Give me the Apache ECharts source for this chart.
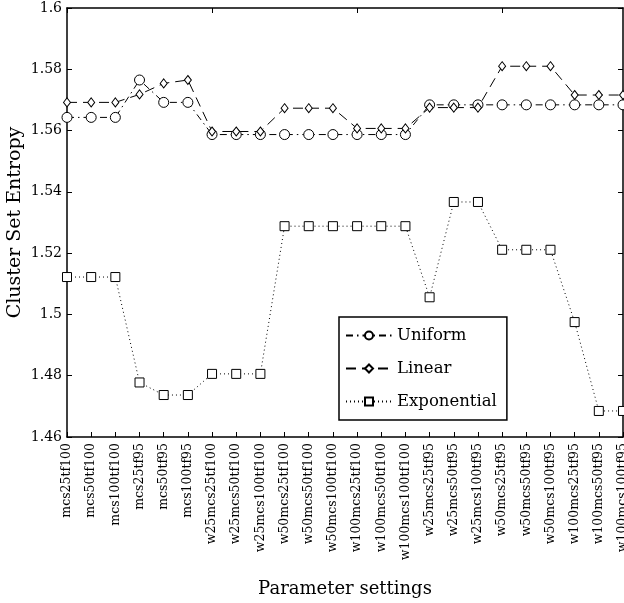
<!DOCTYPE html>
<html><head><meta charset="utf-8">
<script src="https://cdn.jsdelivr.net/npm/echarts@6/dist/echarts.min.js"></script>
<style>html,body{margin:0;padding:0;background:#fff}#c{width:624px;height:603px}</style>
</head><body><div id="c"></div>
<script>
const categories = ['mcs25tf100','mcs50tf100','mcs100tf100','mcs25tf95','mcs50tf95','mcs100tf95',
 'w25mcs25tf100','w25mcs50tf100','w25mcs100tf100','w50mcs25tf100','w50mcs50tf100','w50mcs100tf100',
 'w100mcs25tf100','w100mcs50tf100','w100mcs100tf100','w25mcs25tf95','w25mcs50tf95','w25mcs100tf95',
 'w50mcs25tf95','w50mcs50tf95','w50mcs100tf95','w100mcs25tf95','w100mcs50tf95','w100mcs100tf95'];
const uniform = [1.5643,1.5643,1.5643,1.5765,1.5692,1.5692,
 1.5587,1.5587,1.5587,1.5587,1.5587,1.5587,1.5587,1.5587,1.5587,
 1.5684,1.5684,1.5684,1.5684,1.5684,1.5684,1.5684,1.5684,1.5684];
const linear = [1.5692,1.5692,1.5692,1.5718,1.5754,1.5765,
 1.5597,1.5597,1.5597,1.5673,1.5673,1.5673,1.5607,1.5607,1.5607,
 1.5675,1.5675,1.5675,1.5810,1.5810,1.5810,1.5716,1.5716,1.5716];
const exponential = [1.5122,1.5122,1.5122,1.4778,1.4737,1.4737,
 1.4806,1.4806,1.4806,1.5288,1.5288,1.5288,1.5288,1.5288,1.5288,
 1.5056,1.5367,1.5367,1.5211,1.5211,1.5211,1.4975,1.4685,1.4685];
const yTicks = {min:1.46, max:1.6, interval:0.02};

const F = 'DejaVu Serif';
const chart = echarts.init(document.getElementById('c'), null, {renderer:'canvas'});
const lineCommon = {type:'line', color:'#000', symbolKeepAspect:true, animation:false, z:3};
chart.setOption({
  backgroundColor:'#fff',
  animation:false,
  grid:{left:67, right:1, top:8, bottom:166, containLabel:false, outerBoundsMode:'none'},
  legend:{
    orient:'vertical', left:339, top:317,
    backgroundColor:'#fff', borderColor:'#000', borderWidth:1.5, borderRadius:0,
    padding:[10,10,10,6], itemGap:16, itemWidth:46, itemHeight:10,
    textStyle:{fontFamily:F, fontSize:16.5, color:'#000'},
    data:['Uniform','Linear','Exponential']
  },
  xAxis:[{
    type:'category', data:categories, boundaryGap:false, position:'bottom',
    axisLine:{lineStyle:{color:'#000', width:1.5}},
    axisTick:{inside:true, length:5, lineStyle:{color:'#000'}},
    axisLabel:{rotate:90, interval:0, fontFamily:F, fontSize:12.5, color:'#000', margin:6},
    name:'Parameter settings', nameLocation:'middle', nameGap:143,
    nameTextStyle:{fontFamily:F, fontSize:18, color:'#000'}
  },{
    type:'category', data:categories, boundaryGap:false, position:'top',
    axisLine:{lineStyle:{color:'#000', width:1.5}},
    axisTick:{inside:true, length:5, lineStyle:{color:'#000'}},
    axisLabel:{show:false}
  }],
  yAxis:[{
    type:'value', min:yTicks.min, max:yTicks.max, interval:yTicks.interval, position:'left',
    axisLine:{show:true, lineStyle:{color:'#000', width:1.5}},
    axisTick:{show:true, inside:true, length:5, lineStyle:{color:'#000'}},
    splitLine:{show:false},
    axisLabel:{fontFamily:F, fontSize:14, color:'#000', margin:5,
      formatter:v=>String(parseFloat(v.toFixed(2)))},
    name:'Cluster Set Entropy', nameLocation:'middle', nameGap:42, nameRotate:90,
    nameMoveOverlap:false,
    nameTextStyle:{fontFamily:F, fontSize:19, color:'#000'}
  },{
    type:'value', min:yTicks.min, max:yTicks.max, interval:yTicks.interval, position:'right',
    axisLine:{show:true, lineStyle:{color:'#000', width:1.5}},
    axisTick:{show:true, inside:true, length:5, lineStyle:{color:'#000'}},
    splitLine:{show:false}, axisLabel:{show:false}
  }],
  series:[
    Object.assign({}, lineCommon, {name:'Uniform', data:uniform, symbol:'circle', symbolSize:10,
      itemStyle:{color:'#fff', borderColor:'#000', borderWidth:1},
      lineStyle:{color:'#000', width:1, type:[7,4,1.5,4]}}),
    Object.assign({}, lineCommon, {name:'Linear', data:linear, symbol:'diamond', symbolSize:[7,9],
      itemStyle:{color:'#fff', borderColor:'#000', borderWidth:1},
      lineStyle:{color:'#000', width:1, type:[10,6]}}),
    Object.assign({}, lineCommon, {name:'Exponential', data:exponential, symbol:'rect', symbolSize:9,
      itemStyle:{color:'#fff', borderColor:'#000', borderWidth:1},
      lineStyle:{color:'#000', width:1, type:[1,3]}})
  ]
});
</script></body></html>
